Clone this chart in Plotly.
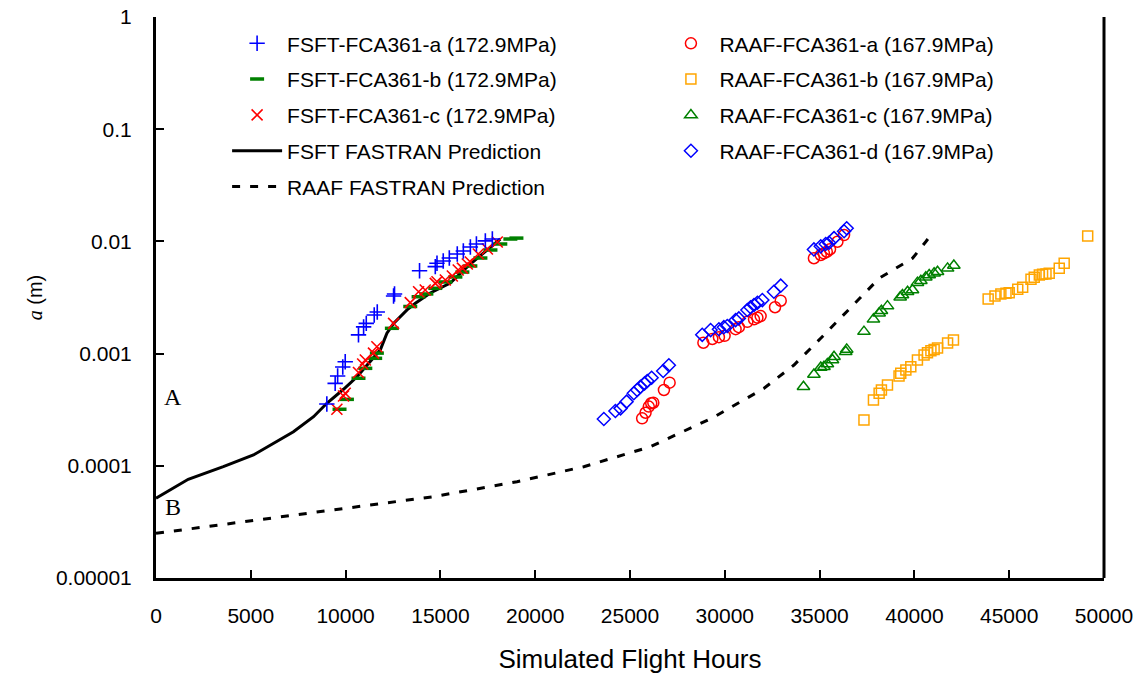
import plotly.graph_objects as go

# ---------------- data ----------------
fsft_a_x = [9010, 9450, 9580, 9850, 9980, 10680, 10950, 11090, 11510, 11670, 12530, 12580,
            13900, 14730, 14820, 15150, 15470, 15890, 16210, 16580, 16900, 17370, 17740]
fsft_a_y = [3.56e-4, 5.43e-4, 6.31e-4, 7.6e-4, 8.47e-4, 1.47e-3, 1.73e-3, 1.86e-3, 2.21e-3, 2.35e-3,
            3.26e-3, 3.40e-3, 5.48e-3, 5.96e-3, 6.38e-3, 6.69e-3, 7.11e-3, 7.72e-3, 8.21e-3, 8.91e-3,
            9.48e-3, 1.01e-2, 1.05e-2]

fsft_b_x = [9680, 10070, 10680, 11040, 11560, 11650, 12440, 13410, 13850, 14260, 14730, 15260,
            15790, 16160, 16580, 17110, 17640, 18160, 18690, 19010]
fsft_b_y = [3.19e-4, 3.91e-4, 6.03e-4, 7.39e-4, 9.08e-4, 1.01e-3, 1.68e-3, 2.63e-3, 3.21e-3, 3.40e-3,
            3.82e-3, 4.35e-3, 4.82e-3, 5.33e-3, 6.04e-3, 7.11e-3, 8.38e-3, 9.48e-3, 1.05e-2, 1.07e-2]

fsft_c_x = [9540, 9890, 9980, 10680, 10900, 11040, 11470, 11650, 12530, 13410, 13850, 14200,
            14730, 14820, 15260, 15630, 15940, 16160, 16420, 16580, 17000, 17480, 18000]
fsft_c_y = [3.19e-4, 4.19e-4, 4.43e-4, 6.79e-4, 8.07e-4, 8.77e-4, 1.01e-3, 1.15e-3, 1.86e-3, 2.85e-3,
            3.56e-3, 3.69e-3, 4.23e-3, 4.37e-3, 4.53e-3, 4.92e-3, 5.56e-3, 5.78e-3, 6.29e-3, 6.55e-3,
            7.72e-3, 8.55e-3, 9.88e-3]

fsft_pred_x = [0, 1700, 3550, 5140, 7250, 8310, 9010, 9890, 10600, 11300, 11830, 12180, 12530,
               13240, 13680, 14470, 15520, 16580, 17640, 18160]
fsft_pred_y = [5.13e-5, 7.58e-5, 9.82e-5, 1.25e-4, 2.01e-4, 2.74e-4, 3.61e-4, 4.81e-4, 6.22e-4,
               8.47e-4, 1.08e-3, 1.52e-3, 1.86e-3, 2.45e-3, 2.81e-3, 3.47e-3, 4.26e-3, 6.29e-3,
               8.91e-3, 1.05e-2]

raaf_pred_x = [0, 4960, 9890, 14640, 19040, 22560, 26080, 29420, 32070, 33650, 35060, 36550,
               37340, 38140, 39020, 39900, 40600, 40710]
raaf_pred_y = [2.50e-5, 3.22e-5, 4.18e-5, 5.31e-5, 7.21e-5, 9.82e-5, 1.48e-4, 2.71e-4, 4.91e-4,
               7.91e-4, 1.37e-3, 2.45e-3, 3.40e-3, 4.69e-3, 5.75e-3, 7.07e-3, 9.93e-3, 1.05e-2]

raaf_a_x = [25640, 25820, 25990, 26120, 26230, 26790, 27090,
            28870, 29340, 29690, 29990, 30570, 30740, 31190, 31540, 31720, 31890, 32650, 32950,
            34700, 35060, 35230, 35380, 35550, 35940, 36290]
raaf_a_y = [2.65e-4, 2.97e-4, 3.37e-4, 3.61e-4, 3.65e-4, 4.74e-4, 5.51e-4,
            1.25e-3, 1.35e-3, 1.40e-3, 1.44e-3, 1.65e-3, 1.72e-3, 1.92e-3, 2.02e-3, 2.09e-3, 2.16e-3,
            2.59e-3, 2.96e-3,
            7.08e-3, 7.57e-3, 7.83e-3, 8.09e-3, 8.51e-3, 9.93e-3, 1.14e-2]

raaf_b_x = [37340, 37840, 38140, 38260, 38580, 39190, 39280, 39550, 39810, 40160, 40510, 40690,
            40870, 41040, 41220, 41750, 42060,
            43890, 44250, 44560, 44830, 45000, 45450, 45710, 46150, 46320, 46590, 46760, 46940,
            47110, 47640, 47900, 49140]
raaf_b_y = [2.56e-4, 3.86e-4, 4.43e-4, 4.74e-4, 5.25e-4, 6.31e-4, 6.67e-4, 7.14e-4, 7.64e-4, 8.77e-4,
            9.72e-4, 1.02e-3, 1.06e-3, 1.09e-3, 1.12e-3, 1.24e-3, 1.32e-3,
            3.07e-3, 3.26e-3, 3.40e-3, 3.45e-3, 3.49e-3, 3.74e-3, 3.90e-3, 4.59e-3, 4.79e-3, 5.02e-3,
            5.09e-3, 5.12e-3, 5.20e-3, 5.75e-3, 6.38e-3, 1.12e-2]

raaf_c_x = [34150, 34700, 35060, 35230, 35410, 35680, 35760, 36380, 36430,
            37340, 37840, 38140, 38260, 38580, 39250, 39370, 39640, 39900, 40160, 40340, 40600,
            40780, 41040, 41220, 41750, 42080]
raaf_c_y = [5.07e-4, 6.51e-4, 7.52e-4, 7.64e-4, 8.07e-4, 8.77e-4, 9.38e-4, 1.04e-3, 1.09e-3,
            1.57e-3, 2.02e-3, 2.29e-3, 2.41e-3, 2.65e-3, 3.18e-3, 3.33e-3, 3.56e-3, 3.69e-3, 4.29e-3,
            4.46e-3, 4.79e-3, 5.02e-3, 5.20e-3, 5.37e-3, 5.75e-3, 6.10e-3]

raaf_d_x = [23620, 24230, 24500, 24820, 25200, 25380, 25550, 25770, 25910, 26140, 26750, 27050,
            28810, 29250, 29690, 29950, 30130, 30570, 30740, 31190, 31360, 31540, 31720, 31980,
            32590, 32950,
            34700, 35060, 35320, 35500, 35760, 36290, 36430]
raaf_d_y = [2.61e-4, 3.08e-4, 3.25e-4, 3.73e-4, 4.43e-4, 4.74e-4, 5.07e-4, 5.43e-4, 5.70e-4, 6.10e-4,
            7.0e-4, 7.87e-4,
            1.47e-3, 1.62e-3, 1.65e-3, 1.72e-3, 1.76e-3, 1.99e-3, 2.06e-3, 2.45e-3, 2.59e-3, 2.71e-3,
            2.84e-3, 3.0e-3, 3.56e-3, 4.03e-3,
            8.48e-3, 9.04e-3, 9.48e-3, 9.73e-3, 1.07e-2, 1.23e-2, 1.31e-2]

x_ticks = [0, 5000, 10000, 15000, 20000, 25000, 30000, 35000, 40000, 45000, 50000]
x_tick_text = ["0", "5000", "10000", "15000", "20000", "25000", "30000", "35000", "40000",
               "45000", "50000"]
y_ticks = [1e-5, 1e-4, 1e-3, 1e-2, 1e-1, 1]
y_tick_text = ["0.00001", "0.0001", "0.001", "0.01", "0.1", "1"]

# ---------------- figure ----------------
BLUE, GREEN, RED, ORANGE = "#0000FF", "#008000", "#FF0000", "#FFA500"
fig = go.Figure()


def mk(x, y, name, symbol, color, size, lw, legend, grp, rank):
    fig.add_trace(go.Scatter(
        x=x, y=y, mode="markers", name=name, legend=legend, legendgroup=grp, legendrank=rank,
        marker=dict(symbol=symbol, size=size, color=color,
                    line=dict(color=color, width=lw))))


# lines first (drawn beneath markers)
fig.add_trace(go.Scatter(x=raaf_pred_x, y=raaf_pred_y, mode="lines", name="RAAF FASTRAN Prediction",
                         legend="legend", legendgroup="g5", legendrank=5,
                         line=dict(color="black", width=3, dash="8px,10px")))
fig.add_trace(go.Scatter(x=fsft_pred_x, y=fsft_pred_y, mode="lines", name="FSFT FASTRAN Prediction",
                         legend="legend", legendgroup="g4", legendrank=4,
                         line=dict(color="black", width=3)))

mk(fsft_b_x, fsft_b_y, "FSFT-FCA361-b (172.9MPa)", "line-ew-open", GREEN, 10, 3.5, "legend", "g2", 2)
mk(fsft_c_x, fsft_c_y, "FSFT-FCA361-c (172.9MPa)", "x-thin-open", RED, 11, 1.6, "legend", "g3", 3)
mk(fsft_a_x, fsft_a_y, "FSFT-FCA361-a (172.9MPa)", "cross-thin-open", BLUE, 11, 1.6, "legend", "g1", 1)

mk(raaf_a_x, raaf_a_y, "RAAF-FCA361-a (167.9MPa)", "circle-open", RED, 11, 1.5, "legend2", "h1", 1)
mk(raaf_b_x, raaf_b_y, "RAAF-FCA361-b (167.9MPa)", "square-open", ORANGE, 10, 1.5, "legend2", "h2", 2)
mk(raaf_c_x, raaf_c_y, "RAAF-FCA361-c (167.9MPa)", "triangle-up-open", GREEN, 11, 1.5, "legend2", "h3", 3)
mk(raaf_d_x, raaf_d_y, "RAAF-FCA361-d (167.9MPa)", "diamond-open", BLUE, 10, 1.5, "legend2", "h4", 4)

fig.update_layout(
    width=1145, height=674,
    margin=dict(l=156, r=41, t=17, b=96, autoexpand=False),
    paper_bgcolor="white", plot_bgcolor="white",
    font=dict(family="Liberation Sans, Arial, sans-serif", size=21, color="black"),
    showlegend=True,
    legend=dict(x=0.075, y=0.989, xanchor="left", yanchor="top", bgcolor="rgba(0,0,0,0)",
                font=dict(size=21), tracegroupgap=5.5, itemwidth=50, traceorder="grouped"),
    legend2=dict(x=0.5342, y=0.989, xanchor="left", yanchor="top", bgcolor="rgba(0,0,0,0)",
                 font=dict(size=21), tracegroupgap=5.5, itemwidth=47, traceorder="grouped"),
    xaxis=dict(range=[0, 50000], tickvals=x_ticks, ticktext=x_tick_text, ticks="inside",
               ticklen=8, tickwidth=2, tickcolor="black", showline=True, linecolor="black",
               linewidth=3, mirror=False, showgrid=False, zeroline=False, ticklabelstandoff=17,
               tickfont=dict(size=21), automargin=False,
               title=dict(text="Simulated Flight Hours", standoff=24, font=dict(size=26))),
    yaxis=dict(type="log", range=[-5, 0], tickvals=y_ticks, ticktext=y_tick_text, ticks="inside",
               ticklen=8, tickwidth=2, tickcolor="black", showline=True, linecolor="black",
               linewidth=3, showgrid=False, zeroline=False, ticklabelstandoff=17,
               tickfont=dict(size=21), automargin=False,
               title=dict(text="<span style='font-family:Liberation Serif'><i>a</i></span> (m)",
                          standoff=8, font=dict(size=20))),
    shapes=[dict(type="line", xref="paper", yref="paper", x0=1, x1=1, y0=0, y1=1,
                 line=dict(color="black", width=3))],
    annotations=[
        dict(text="A", xref="paper", yref="paper", x=0.018, y=0.3226, showarrow=False,
             xanchor="center", yanchor="middle",
             font=dict(family="Liberation Serif", size=24)),
        dict(text="B", xref="paper", yref="paper", x=0.018, y=0.1266, showarrow=False,
             xanchor="center", yanchor="middle",
             font=dict(family="Liberation Serif", size=24)),
    ],
)

fig.write_html("out.html")
